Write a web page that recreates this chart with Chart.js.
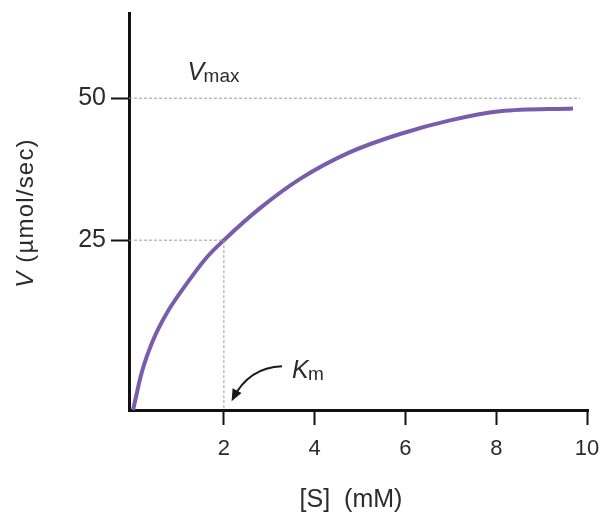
<!DOCTYPE html>
<html>
<head>
<title>Michaelis-Menten</title>
<style type="text/css">
  body { margin: 0; background: #fff; }
  #chart-container { width: 602px; height: 513px; }
</style>
</head>
<body>
<div id="chart-container">
  <canvas id="mycanvas" width="602" height="513"></canvas>
</div>

<script src="https://cdn.jsdelivr.net/npm/chart.js@4.4.1/dist/chart.umd.min.js"></script>
<script>
// values (axis units)
var substrate = [0, 0.19, 0.435, 0.744, 1.185, 1.625, 2.0, 2.79, 3.68, 4.78, 5.88, 6.98, 8.08, 9.69];
var velocity  = [-4.9, 1.7, 7.3, 12.2, 17.4, 22.0, 25, 30.6, 35.8, 40.5, 43.7, 46.1, 47.7, 48.2];
var xTicks = [2, 4, 6, 8, 10];
var yTicks = [25, 50];
var vmax = 50;
var km = 2;
var halfVmax = 25;

var xMin = -0.09, xMax = 10.02;
var yMin = -4.9, yMax = 65;

var fontFam = "'Liberation Sans', Arial, sans-serif";
var textCol = '#2b2b2b';

var curve = [];
for (var i = 0; i < substrate.length; i++) {
  curve.push({x: substrate[i], y: velocity[i]});
}

var dashed = {
  borderColor: '#9a9a9a',
  borderWidth: 1,
  borderDash: [3, 2],
  pointRadius: 0,
  fill: false
};

// keep the plot area where the picture has it
function noPad(axis) {
  axis.paddingTop = 0;
  axis.paddingBottom = 0;
  axis.paddingLeft = 0;
  axis.paddingRight = 0;
}

var annotations = {
  id: 'annotations',
  afterDraw: function(chart) {
    var ctx = chart.ctx;
    var x = chart.scales.x, y = chart.scales.y;
    ctx.save();
    ctx.fillStyle = textCol;

    // y axis title, rotated
    ctx.save();
    ctx.translate(26, 213);
    ctx.rotate(-Math.PI / 2);
    ctx.textBaseline = 'middle';
    ctx.letterSpacing = '1.2px';
    ctx.font = 'italic 24px ' + fontFam;
    var wV = ctx.measureText('V').width;
    ctx.font = '24px ' + fontFam;
    var rest = ' (\u00b5mol/sec)';
    var wR = ctx.measureText(rest).width;
    var start = -(wV + wR) / 2;
    ctx.font = 'italic 24px ' + fontFam;
    ctx.fillText('V', start, 0);
    ctx.font = '24px ' + fontFam;
    ctx.fillText(rest, start + wV, 0);
    ctx.restore();

    ctx.textBaseline = 'alphabetic';
    // x axis title
    ctx.textAlign = 'center';
    ctx.font = '25px ' + fontFam;
    ctx.fillText('[S]  (mM)', 351, 507);
    ctx.textAlign = 'left';

    // Vmax label
    var vx = x.getPixelForValue(1.2), vy = y.getPixelForValue(53.2);
    ctx.font = 'italic 25px ' + fontFam;
    ctx.fillText('V', vx, vy);
    ctx.font = '19px ' + fontFam;
    ctx.fillText('max', vx + 16, vy + 2);

    // Km label
    var kx = x.getPixelForValue(3.5), ky = y.getPixelForValue(0.7);
    ctx.font = 'italic 25px ' + fontFam;
    ctx.fillText('K', kx, ky);
    ctx.font = '19px ' + fontFam;
    ctx.fillText('m', kx + 16, ky + 2);

    // curved arrow towards Km
    var ax0 = x.getPixelForValue(3.28), ay0 = y.getPixelForValue(2.8);
    var ax1 = x.getPixelForValue(2.2), ay1 = y.getPixelForValue(-2.9);
    var cx = x.getPixelForValue(2.55), cy = y.getPixelForValue(2.6);
    ctx.strokeStyle = '#1a1a1a';
    ctx.lineWidth = 2;
    ctx.beginPath();
    ctx.moveTo(ax0, ay0);
    ctx.quadraticCurveTo(cx, cy, ax1, ay1);
    ctx.stroke();
    var ang = Math.atan2(ay1 - cy, ax1 - cx);
    ctx.fillStyle = '#1a1a1a';
    ctx.beginPath();
    ctx.moveTo(ax1 + 3 * Math.cos(ang), ay1 + 3 * Math.sin(ang));
    ctx.lineTo(ax1 - 9 * Math.cos(ang) + 5 * Math.sin(ang), ay1 - 9 * Math.sin(ang) - 5 * Math.cos(ang));
    ctx.lineTo(ax1 - 9 * Math.cos(ang) - 5 * Math.sin(ang), ay1 - 9 * Math.sin(ang) + 5 * Math.cos(ang));
    ctx.closePath();
    ctx.fill();
    ctx.restore();
  }
};

var ctx = document.getElementById('mycanvas');

var chart = new Chart(ctx, {
  type: 'line',
  data: {
    datasets: [
      Object.assign({data: [{x: xMin, y: vmax}, {x: 9.85, y: vmax}]}, dashed),
      Object.assign({data: [{x: xMin, y: halfVmax}, {x: km, y: halfVmax}]}, dashed),
      Object.assign({data: [{x: km, y: halfVmax}, {x: km, y: yMin}]}, dashed),
      {
        label: 'V',
        data: curve,
        borderColor: '#7a5cac',
        borderWidth: 4,
        pointRadius: 0,
        cubicInterpolationMode: 'monotone',
        fill: false,
        clip: false
      }
    ]
  },
  options: {
    responsive: false,
    animation: false,
    layout: { padding: { top: 13, right: 14, left: 0, bottom: 0 } },
    plugins: {
      legend: { display: false },
      tooltip: { enabled: false }
    },
    scales: {
      x: {
        type: 'linear',
        min: xMin,
        max: xMax,
        afterBuildTicks: function(axis) {
          axis.ticks = xTicks.map(function(v) { return {value: v}; });
        },
        afterFit: function(axis) { axis.height = 103; noPad(axis); },
        border: { display: true, color: '#111', width: 3 },
        grid: { drawOnChartArea: false, drawTicks: true, tickLength: 15, tickWidth: 2, tickColor: '#111' },
        ticks: {
          font: { family: fontFam, size: 22 },
          color: textCol,
          padding: 11,
          maxRotation: 0,
          autoSkip: false
        }
      },
      y: {
        type: 'linear',
        min: yMin,
        max: yMax,
        afterBuildTicks: function(axis) {
          axis.ticks = yTicks.map(function(v) { return {value: v}; });
        },
        afterFit: function(axis) { axis.width = 129; noPad(axis); },
        border: { display: true, color: '#111', width: 3 },
        grid: { drawOnChartArea: false, drawTicks: true, tickLength: 18, tickWidth: 2, tickColor: '#111' },
        ticks: {
          font: { family: fontFam, size: 25 },
          color: textCol,
          padding: 5,
          autoSkip: false
        }
      }
    }
  },
  plugins: [annotations]
});
</script>
</body>
</html>
